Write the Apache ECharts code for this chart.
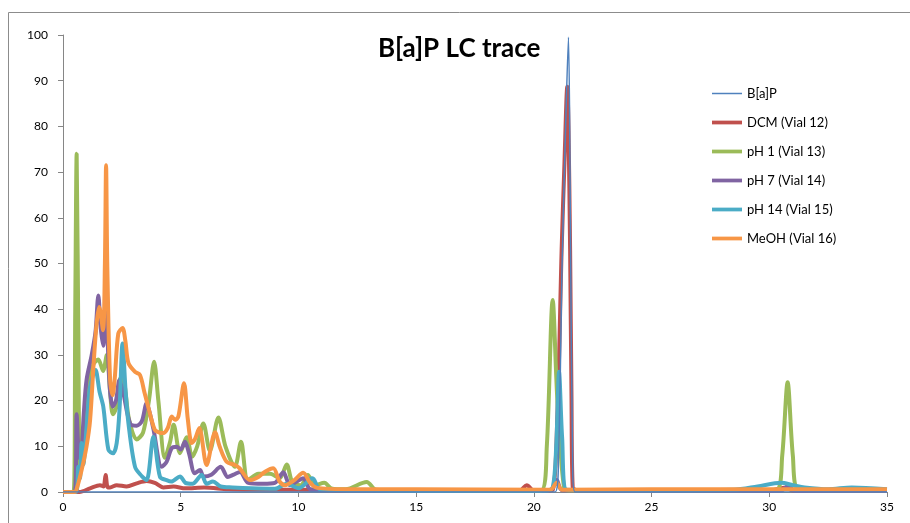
<!DOCTYPE html>
<html>
<head>
<meta charset="utf-8">
<script src="https://cdn.jsdelivr.net/npm/echarts@6/dist/echarts.min.js"></script>
<style>
  html, body { margin: 0; padding: 0; background: #fff; }
  #chart { width: 910px; height: 523px; }
</style>
</head>
<body>
<div id="chart"></div>
<script>
// ---- data (retention time in minutes, relative signal) ----
const seriesNames = ['B[a]P', 'DCM (Vial 12)', 'pH 1 (Vial 13)', 'pH 7 (Vial 14)', 'pH 14 (Vial 15)', 'MeOH (Vial 16)'];
const xTicks = [0, 5, 10, 15, 20, 25, 30, 35];
const yTicks = [0, 10, 20, 30, 40, 50, 60, 70, 80, 90, 100];

const bapX = [0, 10, 20.9, 21.05, 21.2, 21.35, 21.47, 21.55, 21.65, 21.75, 30, 35];
const bapY = [0, 0, 0, 8, 50, 80, 99.5, 60, 5, 0, 0, 0];

const dcmX = [0, 0.7, 1.15, 1.57, 1.72, 1.81, 1.9, 2.0, 2.28, 2.7, 3.13, 3.55, 3.9, 4.26, 4.7, 5.2, 6, 7, 8, 10, 12, 15, 19.4, 19.7, 20.0, 20.5, 20.8, 21.0, 21.18, 21.3, 21.42, 21.47, 21.54, 21.6, 21.65, 22, 25, 30, 30.7, 31, 35];
const dcmY = [0, 0, 0.8, 1.5, 1.2, 3.7, 1, 1, 1.5, 1.2, 1.9, 2.4, 2.0, 1.0, 1.2, 0.8, 1, 0.6, 0.5, 0.5, 0.4, 0.3, 0.3, 1.5, 0.3, 0.3, 0.4, 17, 53, 72, 88.7, 80, 53, 20, 1, 0.3, 0.3, 0.3, 1, 0.3, 0.3];

const ph1X = [0, 0.45, 0.52, 0.58, 0.65, 0.72, 0.85, 1.0, 1.15, 1.3, 1.5, 1.7, 1.86, 2.0, 2.12, 2.3, 2.45, 2.6, 2.8, 3.13, 3.4, 3.65, 3.87, 4.05, 4.33, 4.55, 4.7, 4.97, 5.26, 5.48, 5.7, 5.96, 6.24, 6.6, 6.9, 7.3, 7.56, 7.86, 8.3, 8.8, 9.2, 9.5, 9.75, 10.1, 10.4, 10.7, 11.1, 11.4, 12.0, 12.9, 13.3, 15, 20.3, 20.55, 20.8, 21.0, 21.3, 21.5, 25, 30.3, 30.55, 30.78, 31.0, 31.25, 35];
const ph1Y = [0, 0, 40, 74, 35, 6, 12, 18, 25, 28, 29, 26.5, 30, 22, 17, 19, 25, 24, 16, 11.5, 13, 20, 28.5, 20, 7.5, 11, 14.7, 8.5, 12, 7.7, 10, 15, 9, 16.3, 10, 5.5, 11, 2.6, 4, 4, 3, 6, 2, 1.5, 3.7, 1.5, 2, 0.8, 0.6, 2.2, 0.5, 0.3, 0.3, 10, 42, 20, 0.5, 0.3, 0.3, 0.5, 8, 24, 8, 0.5, 0.3];

const ph7X = [0, 0.5, 0.58, 0.66, 0.75, 0.88, 1.0, 1.22, 1.38, 1.5, 1.6, 1.71, 1.83, 1.92, 2.0, 2.11, 2.25, 2.4, 2.55, 2.85, 3.13, 3.35, 3.55, 3.7, 3.84, 4.19, 4.4, 4.62, 4.83, 5.0, 5.18, 5.35, 5.6, 5.82, 5.97, 6.3, 6.7, 7.0, 7.25, 7.52, 7.87, 8.5, 9.0, 9.36, 9.64, 10.0, 10.2, 10.5, 11, 15, 20.7, 20.97, 21.2, 25, 30.5, 30.8, 31.1, 35];
const ph7Y = [0, 0, 17, 9, 7, 17, 24.5, 30, 35, 43, 36, 32, 42.7, 30, 22, 18.7, 20, 24.5, 22, 15, 14.5, 15.5, 19.4, 17, 13.8, 5.5, 6.6, 9.6, 9.9, 9.3, 11, 8.5, 4.1, 4.8, 3.4, 3.8, 5.5, 3.3, 3.8, 4.4, 2, 1.8, 2, 4.3, 1.5, 2.5, 3, 0.6, 0.4, 0.3, 0.4, 2.6, 0.4, 0.3, 0.3, 1.3, 0.3, 0.3];

const ph14X = [0, 0.55, 0.65, 0.72, 0.79, 0.86, 1.0, 1.15, 1.38, 1.55, 1.71, 1.93, 2.13, 2.28, 2.4, 2.53, 2.66, 2.78, 3.06, 3.34, 3.55, 3.84, 4.12, 4.4, 4.6, 4.97, 5.2, 5.5, 5.89, 6.1, 6.37, 6.7, 7.2, 8, 9, 9.5, 10.0, 10.6, 10.9, 12, 15, 20.5, 20.8, 20.95, 21.07, 21.2, 21.4, 25, 28.5, 29.5, 30.5, 31.0, 31.5, 32.5, 33.5, 35];
const ph14Y = [0, 0, 5.5, 3, 10.7, 6, 14, 23, 26.7, 22, 18.7, 9.2, 8.5, 10.7, 18, 32.5, 22, 15, 5.5, 3.5, 2.6, 12.1, 3.3, 2.6, 2.3, 3.4, 2, 1.8, 3.7, 1.8, 2.3, 1.2, 1, 0.8, 0.7, 1.8, 0.8, 3, 0.6, 0.4, 0.3, 0.3, 1, 10, 26.3, 12, 0.5, 0.4, 0.5, 1.2, 2.0, 1.5, 1.0, 0.6, 1.0, 0.6];

const meohX = [0, 0.5, 0.6, 0.8, 1.0, 1.15, 1.3, 1.43, 1.54, 1.7, 1.78, 1.83, 1.88, 2.0, 2.11, 2.2, 2.35, 2.53, 2.65, 2.78, 3.06, 3.27, 3.45, 3.62, 3.9, 4.1, 4.26, 4.45, 4.62, 4.76, 4.9, 5.14, 5.3, 5.47, 5.6, 5.79, 6.1, 6.46, 6.65, 6.95, 7.3, 7.5, 7.94, 8.3, 8.6, 8.93, 9.2, 9.43, 9.8, 10.2, 10.5, 10.8, 12, 15, 20.7, 20.97, 21.2, 25, 35];
const meohY = [0, 0, 1, 5, 10, 15.7, 28, 37, 40.5, 35.4, 50, 71.5, 50, 24.5, 21.2, 25, 34.7, 35.9, 33, 28.2, 26.3, 25.6, 22, 18.6, 13.6, 13, 12.9, 14, 16.5, 15.8, 16.5, 23.8, 16, 10.7, 11.5, 14, 5.9, 13.1, 10, 6.6, 5.9, 5.2, 2.6, 3.3, 4.5, 5.2, 2.3, 1.5, 2.5, 4.2, 2.0, 0.9, 0.6, 0.6, 0.5, 2, 0.5, 0.6, 0.6];

const colors = ['#4F81BD', '#C0504D', '#9BBB59', '#8064A2', '#4BACC6', '#F79646'];
const widths = [1.5, 4, 4, 4, 4, 4];
const legendIcons = ['path://M0,0H20V1H0Z', 'path://M0,0H8V1H0Z', 'path://M0,0H8V1H0Z', 'path://M0,0H8V1H0Z', 'path://M0,0H8V1H0Z', 'path://M0,0H8V1H0Z'];

function zip(xs, ys) { return xs.map((x, i) => [x, ys[i]]); }
const allData = [zip(bapX, bapY), zip(dcmX, dcmY), zip(ph1X, ph1Y), zip(ph7X, ph7Y), zip(ph14X, ph14Y), zip(meohX, meohY)];

const FONT = 'Lato, "Open Sans", sans-serif';
const chart = echarts.init(document.getElementById('chart'), null, { renderer: 'canvas' });
chart.setOption({
  animation: false,
  color: colors,
  title: {
    text: 'B[a]P LC trace',
    left: 373, top: 31,
    textStyle: { fontFamily: FONT, fontWeight: 'bold', fontSize: 26, color: '#000' }
  },
  legend: {
    orient: 'vertical', left: 707, top: 82,
    itemWidth: 30, itemHeight: 14, itemGap: 16,
    textStyle: { fontFamily: FONT, fontSize: 13, color: '#000' },
    data: seriesNames.map((n, i) => ({ name: n, icon: legendIcons[i] }))
  },
  graphic: [{
    type: 'rect', silent: true,
    shape: { x: 8.5, y: 12.5, width: 1000, height: 600 },
    style: { fill: 'none', stroke: '#8c8c8c', lineWidth: 1 }
  }],
  grid: { left: 63, right: 23, top: 35, bottom: 31 },
  xAxis: {
    type: 'value', min: 0, max: 35, interval: 5,
    axisLine: { lineStyle: { color: '#868686' } },
    axisTick: { show: true, length: 5, lineStyle: { color: '#868686' } },
    splitLine: { show: false },
    axisLabel: { margin: 9, fontFamily: FONT, fontSize: 12, color: '#000',
      formatter: v => xTicks.includes(v) ? String(v) : '' }
  },
  yAxis: {
    type: 'value', min: 0, max: 100, interval: 10,
    axisLine: { show: true, lineStyle: { color: '#868686' } },
    axisTick: { show: true, length: 5, lineStyle: { color: '#868686' } },
    splitLine: { show: false },
    axisLabel: { margin: 15, fontFamily: FONT, fontSize: 12, color: '#000',
      formatter: v => yTicks.includes(v) ? String(v) : '' }
  },
  series: seriesNames.map((name, i) => ({
    name: name, type: 'line', data: allData[i],
    symbol: 'none', smooth: 0.3, z: 2 + (i === 0 ? 6 : i),
    lineStyle: { width: widths[i], color: colors[i] },
    itemStyle: { color: colors[i] }
  }))
});
</script>
</body>
</html>
